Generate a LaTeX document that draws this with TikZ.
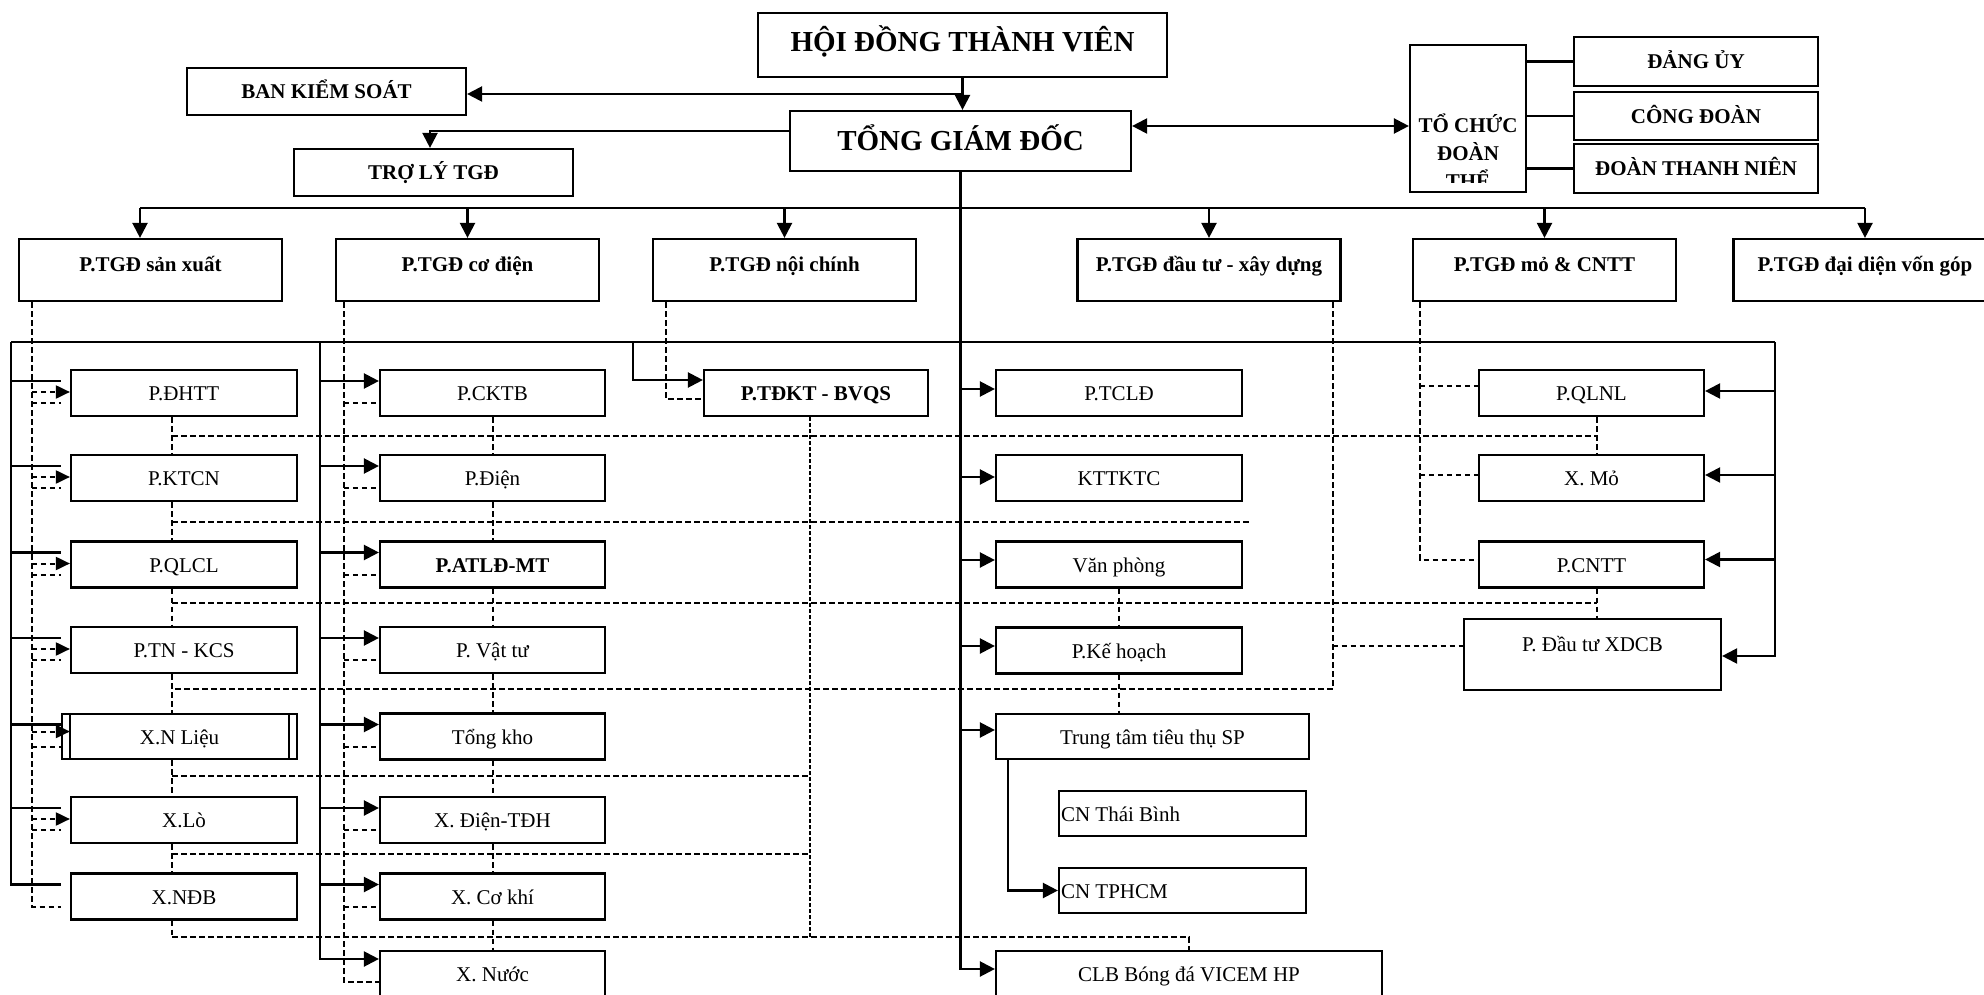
\documentclass[tikz,border=0pt]{standalone}
\usepackage{fontspec}
\setmainfont{Liberation Serif}
\usetikzlibrary{arrows.meta}
\newcommand\szN{\fontsize{21pt}{25pt}\selectfont}
\newcommand\szB{\fontsize{29pt}{34pt}\selectfont}
\begin{document}
\begin{tikzpicture}[x=1pt,y=-1pt,
  box/.style={draw, line width=2.2pt, inner sep=0pt, font=\szN, text height=17pt, text depth=2pt},
  bbox/.style={box, font=\szN\bfseries},
  conn/.style={line width=2.3pt},
  arr/.style={conn, -{Triangle[length=15pt,width=15pt]}},
  dbl/.style={conn, {Triangle[length=15pt,width=15pt]}-{Triangle[length=15pt,width=15pt]}},
  dsh/.style={line width=2pt, dash pattern=on 5.5pt off 3.5pt},
  dot/.style={line width=1.8pt, dash pattern=on 3.5pt off 2.5pt},
  darr/.style={dsh, -{Triangle[length=14pt,width=13pt]}}]
\useasboundingbox (0,0) rectangle (1984,995);
\clip (0,0) rectangle (1984,995);
\fill[white] (0,0) rectangle (1984,995);

% ---------- top level ----------
\node[bbox, font=\szB\bfseries, text height=22pt, text depth=8pt, minimum width=409pt, minimum height=64pt] (hdtv) at (962.5,45) {HỘI ĐỒNG THÀNH VIÊN};
\node[bbox, font=\szB\bfseries, text height=24pt, text depth=4pt, minimum width=341pt, minimum height=60pt] (tgd) at (960.5,141) {TỔNG GIÁM ĐỐC};
\node[bbox, minimum width=279pt, minimum height=47pt] (ban) at (326.5,91.5) {BAN KIỂM SOÁT};
\node[bbox, minimum width=279pt, minimum height=47pt] (trly) at (433.5,172.5) {TRỢ LÝ TGĐ};

% mass organisations
\node[draw, line width=2.2pt, inner sep=0pt, minimum width=116pt, minimum height=147pt] (tcdt) at (1468,118.5) {};
\begin{scope}
  \clip ([xshift=1pt,yshift=-1pt]tcdt.north west) rectangle ([xshift=-1pt,yshift=11pt]tcdt.south east);
  \node[font=\fontsize{21pt}{28pt}\selectfont\bfseries, align=center, inner sep=0pt, anchor=base] (tcdttxt) at (1468,189) {TỔ CHỨC\\ĐOÀN\\THỂ};
\end{scope}
\node[bbox, minimum width=244pt, minimum height=49pt] (dangu) at (1696,61.5) {ĐẢNG ỦY};
\node[bbox, minimum width=244pt, minimum height=48pt] (congd) at (1696,116) {CÔNG ĐOÀN};
\node[bbox, minimum width=244pt, minimum height=49pt] (doantn) at (1696,168.5) {ĐOÀN THANH NIÊN};

% deputy general directors
\foreach \n/\t/\x in {psx/P.TGĐ sản xuất/150.5, pcd/P.TGĐ cơ điện/467.5, pnc/P.TGĐ nội chính/784.5,
    pdt/P.TGĐ đầu tư - xây dựng/1209, pmo/P.TGĐ mỏ \& CNTT/1544.5, pvg/P.TGĐ đại diện vốn góp/1865}
  \node[bbox, text depth=13pt, minimum width=263pt, minimum height=62pt] (\n) at (\x,270) {\t};

% ---------- departments ----------
\foreach \n/\t/\y in {dhtt/P.ĐHTT/393, ktcn/P.KTCN/478, qlcl/P.QLCL/564.5, tnkcs/P.TN - KCS/650,
    xlo/X.Lò/820, xndb/X.NĐB/896.5}
  \node[box, minimum width=226pt, minimum height=46pt] (\n) at (184,\y) {\t};
\node[box, minimum width=235pt, minimum height=45pt] (xnl) at (179.5,736.5) {X.N Liệu};
\draw[line width=2.2pt] ([xshift=9pt]xnl.north west) -- ([xshift=9pt]xnl.south west);
\draw[line width=2.2pt] ([xshift=-9pt]xnl.north east) -- ([xshift=-9pt]xnl.south east);

\foreach \n/\t/\y in {cktb/P.CKTB/393, pdien/P.Điện/478, atld/{\bfseries P.ATLĐ-MT}/564.5, vattu/P. Vật tư/650,
    tongkho/Tổng kho/736.5, xdien/X. Điện-TĐH/820, xcokhi/X. Cơ khí/896.5, xnuoc/X. Nước/974}
  \node[box, minimum width=225pt, minimum height=46pt] (\n) at (492.5,\y) {\t};

\node[bbox, minimum width=224pt, minimum height=46pt] (tdkt) at (816,393) {P.TĐKT - BVQS};

\foreach \n/\t/\y in {tcld/P.TCLĐ/393, kttktc/KTTKTC/478, vp/Văn phòng/564.5, kh/P.Kế hoạch/650.5}
  \node[box, minimum width=246pt, minimum height=46pt] (\n) at (1119,\y) {\t};
\node[box, minimum width=313pt, minimum height=45pt] (tttt) at (1152.5,736.5) {Trung tâm tiêu thụ SP};
\node[box, minimum width=247pt, minimum height=45pt] (cntb) at (1182.5,813.5) {\makebox[243pt][l]{CN Thái Bình}};
\node[box, minimum width=247pt, minimum height=45pt] (cnhcm) at (1182.5,890.5) {\makebox[243pt][l]{CN TPHCM}};
\node[box, minimum width=386pt, minimum height=46pt] (clb) at (1189,974) {CLB Bóng đá VICEM HP};

\foreach \n/\t/\y in {qlnl/P.QLNL/393, xmo/X. Mỏ/478, cntt/P.CNTT/564.5}
  \node[box, minimum width=225pt, minimum height=46pt] (\n) at (1591.5,\y) {\t};
\node[box, text depth=24pt, minimum width=257pt, minimum height=71pt] (xdcb) at (1592.5,654.5) {P. Đầu tư XDCB};

% ---------- reference points ----------
\coordinate (bus1L) at (140,208);
\coordinate (bus1R) at (1865,208);
\coordinate (bus2L) at (11,342);
\coordinate (bus2R) at (1775,342);
\coordinate (c2top) at (320,342);
\coordinate (tdr) at (633,342);
\coordinate (c1d) at ([xshift=14pt]psx.south west);
\coordinate (c2d) at ([xshift=9pt]pcd.south west);
\coordinate (c3d) at ([xshift=14pt]pnc.south west);
\coordinate (cdt) at ([xshift=-9pt]pdt.south east);
\coordinate (cmo) at ([xshift=8pt]pmo.south west);
\coordinate (c4v) at (1597,416);
\coordinate (tdv) at (810,416);
\coordinate (h1) at (172,436);
\coordinate (h2) at (172,522);
\coordinate (h3) at (172,603);
\coordinate (h4) at (172,689);
\coordinate (h5) at (172,776);
\coordinate (h6) at (172,854);
\coordinate (h7) at (172,937);
\coordinate (h2e) at (1249,522);

% ---------- top connectors ----------
\draw[arr] (hdtv.south) -- (hdtv.south |- tgd.north);
\draw[arr] ([yshift=-2.5pt]ban.east -| hdtv.south) -- ([yshift=-2.5pt]ban.east);
\draw[arr] ([yshift=10pt]tgd.west) -| ([xshift=-3.5pt]trly.north);
\draw[dbl] ([yshift=15pt]tgd.east) -- ([yshift=15pt]tgd.east -| tcdt.west);
\foreach \b in {dangu,congd,doantn}
  \draw[conn] (tcdt.east |- \b.west) -- (\b.west);

\draw[conn] (bus1L) -- (bus1R);
\draw[arr] (bus1L) -- (bus1L |- psx.north);
\foreach \b in {pcd,pnc,pdt,pmo}
  \draw[arr] (\b.north |- bus1L) -- (\b.north);
\draw[arr] (bus1R) -- (bus1R |- pvg.north);
\draw[arr] (tgd.south) |- ([yshift=5pt]clb.west);
\draw[conn] (bus2L) -- (bus2R);

% column 1
\draw[conn] (bus2L) |- ([yshift=12pt,xshift=-9pt]xndb.west);
\foreach \b in {dhtt,ktcn,qlcl,tnkcs,xlo}
  \draw[conn] ([yshift=12pt]\b.west -| bus2L) -- ([yshift=12pt,xshift=-9pt]\b.west);
\draw[conn] ([yshift=12pt]xnl.west -| bus2L) -- ([yshift=12pt]xnl.west);
\draw[dsh] (c1d) |- ([yshift=-10pt,xshift=-9pt]xndb.west);
\foreach \b in {dhtt,ktcn,qlcl,tnkcs,xlo} {
  \draw[darr] ([yshift=1pt]\b.west -| c1d) -- ([yshift=1pt]\b.west);
  \draw[dsh] ([yshift=-10pt]\b.west -| c1d) -- ([yshift=-10pt,xshift=-9pt]\b.west);
}
\draw[darr] ([yshift=5pt]xnl.west -| c1d) -- ([yshift=5pt,xshift=9pt]xnl.west);
\draw[dsh] ([yshift=-10pt]xnl.west -| c1d) -- ([yshift=-10pt]xnl.west);

% column 2
\draw[arr] (c2top) |- ([yshift=15pt]xnuoc.west);
\foreach \b in {cktb,pdien,atld,vattu,tongkho,xdien,xcokhi}
  \draw[arr] ([yshift=12pt]\b.west -| c2top) -- ([yshift=12pt]\b.west);
\draw[dsh] (c2d) |- ([yshift=-8pt]xnuoc.west);
\foreach \b in {cktb,pdien,atld,vattu,tongkho,xdien,xcokhi}
  \draw[dsh] ([yshift=-10pt]\b.west -| c2d) -- ([yshift=-10pt]\b.west);

% inspection / defence
\draw[arr] (tdr) |- ([yshift=13pt]tdkt.west);
\draw[dsh] (c3d) |- ([yshift=-6pt]tdkt.west);

% column 3
\foreach \b/\s in {tcld/4, kttktc/1, vp/4.5, kh/4.5, tttt/6.5}
  \draw[arr] ([yshift=\s pt]\b.west -| tgd.south) -- ([yshift=\s pt]\b.west);
\draw[arr] ([xshift=13pt]tttt.south west) |- (cnhcm.west);

% column 4
\draw[arr] (bus2R) |- ([yshift=-1.5pt]xdcb.east);
\foreach \b/\s in {qlnl/2, xmo/3, cntt/5}
  \draw[arr] ([yshift=\s pt]\b.east -| bus2R) -- ([yshift=\s pt]\b.east);
\draw[dsh] (cmo) |- ([yshift=5pt]cntt.west);
\foreach \b/\s in {qlnl/7, xmo/3}
  \draw[dsh] ([yshift=\s pt]\b.west -| cmo) -- ([yshift=\s pt]\b.west);
\draw[dsh] ([yshift=8.5pt]xdcb.west -| cdt) -- ([yshift=8.5pt]xdcb.west);

% ---------- coordination network ----------
\foreach \a/\b in {dhtt/ktcn, ktcn/qlcl, qlcl/tnkcs, tnkcs/xnl, xnl/xlo, xlo/xndb}
  \draw[dsh] (\a.south -| h1) -- (\b.north -| h1);
\draw[dsh] (xndb.south -| h7) -- (h7);
\foreach \a/\b in {cktb/pdien, pdien/atld, atld/vattu, vattu/tongkho, tongkho/xdien, xdien/xcokhi, xcokhi/xnuoc}
  \draw[dsh] (\a.south) -- (\b.north);
\draw[dsh] (qlnl.south -| c4v) -- (xmo.north -| c4v);
\draw[dsh] (cntt.south -| c4v) -- (xdcb.north -| c4v);
\draw[dot] (tdkt.south -| tdv) -- (h7 -| tdv);
\draw[dsh] (vp.south) -- (kh.north);
\draw[dsh] (kh.south) -- (kh.south |- tttt.north);

\draw[dsh] (h1) -- (h1 -| c4v);
\draw[dsh] (h2) -- (h2e);
\draw[dsh] (h3) -- (h3 -| c4v);
\draw[dsh] (cdt) |- (h4);
\draw[dsh] (h5) -- (h5 -| tdv);
\draw[dsh] (h6) -- (h6 -| tdv);
\draw[dsh] (h7) -| (clb.north);
\end{tikzpicture}
\end{document}
